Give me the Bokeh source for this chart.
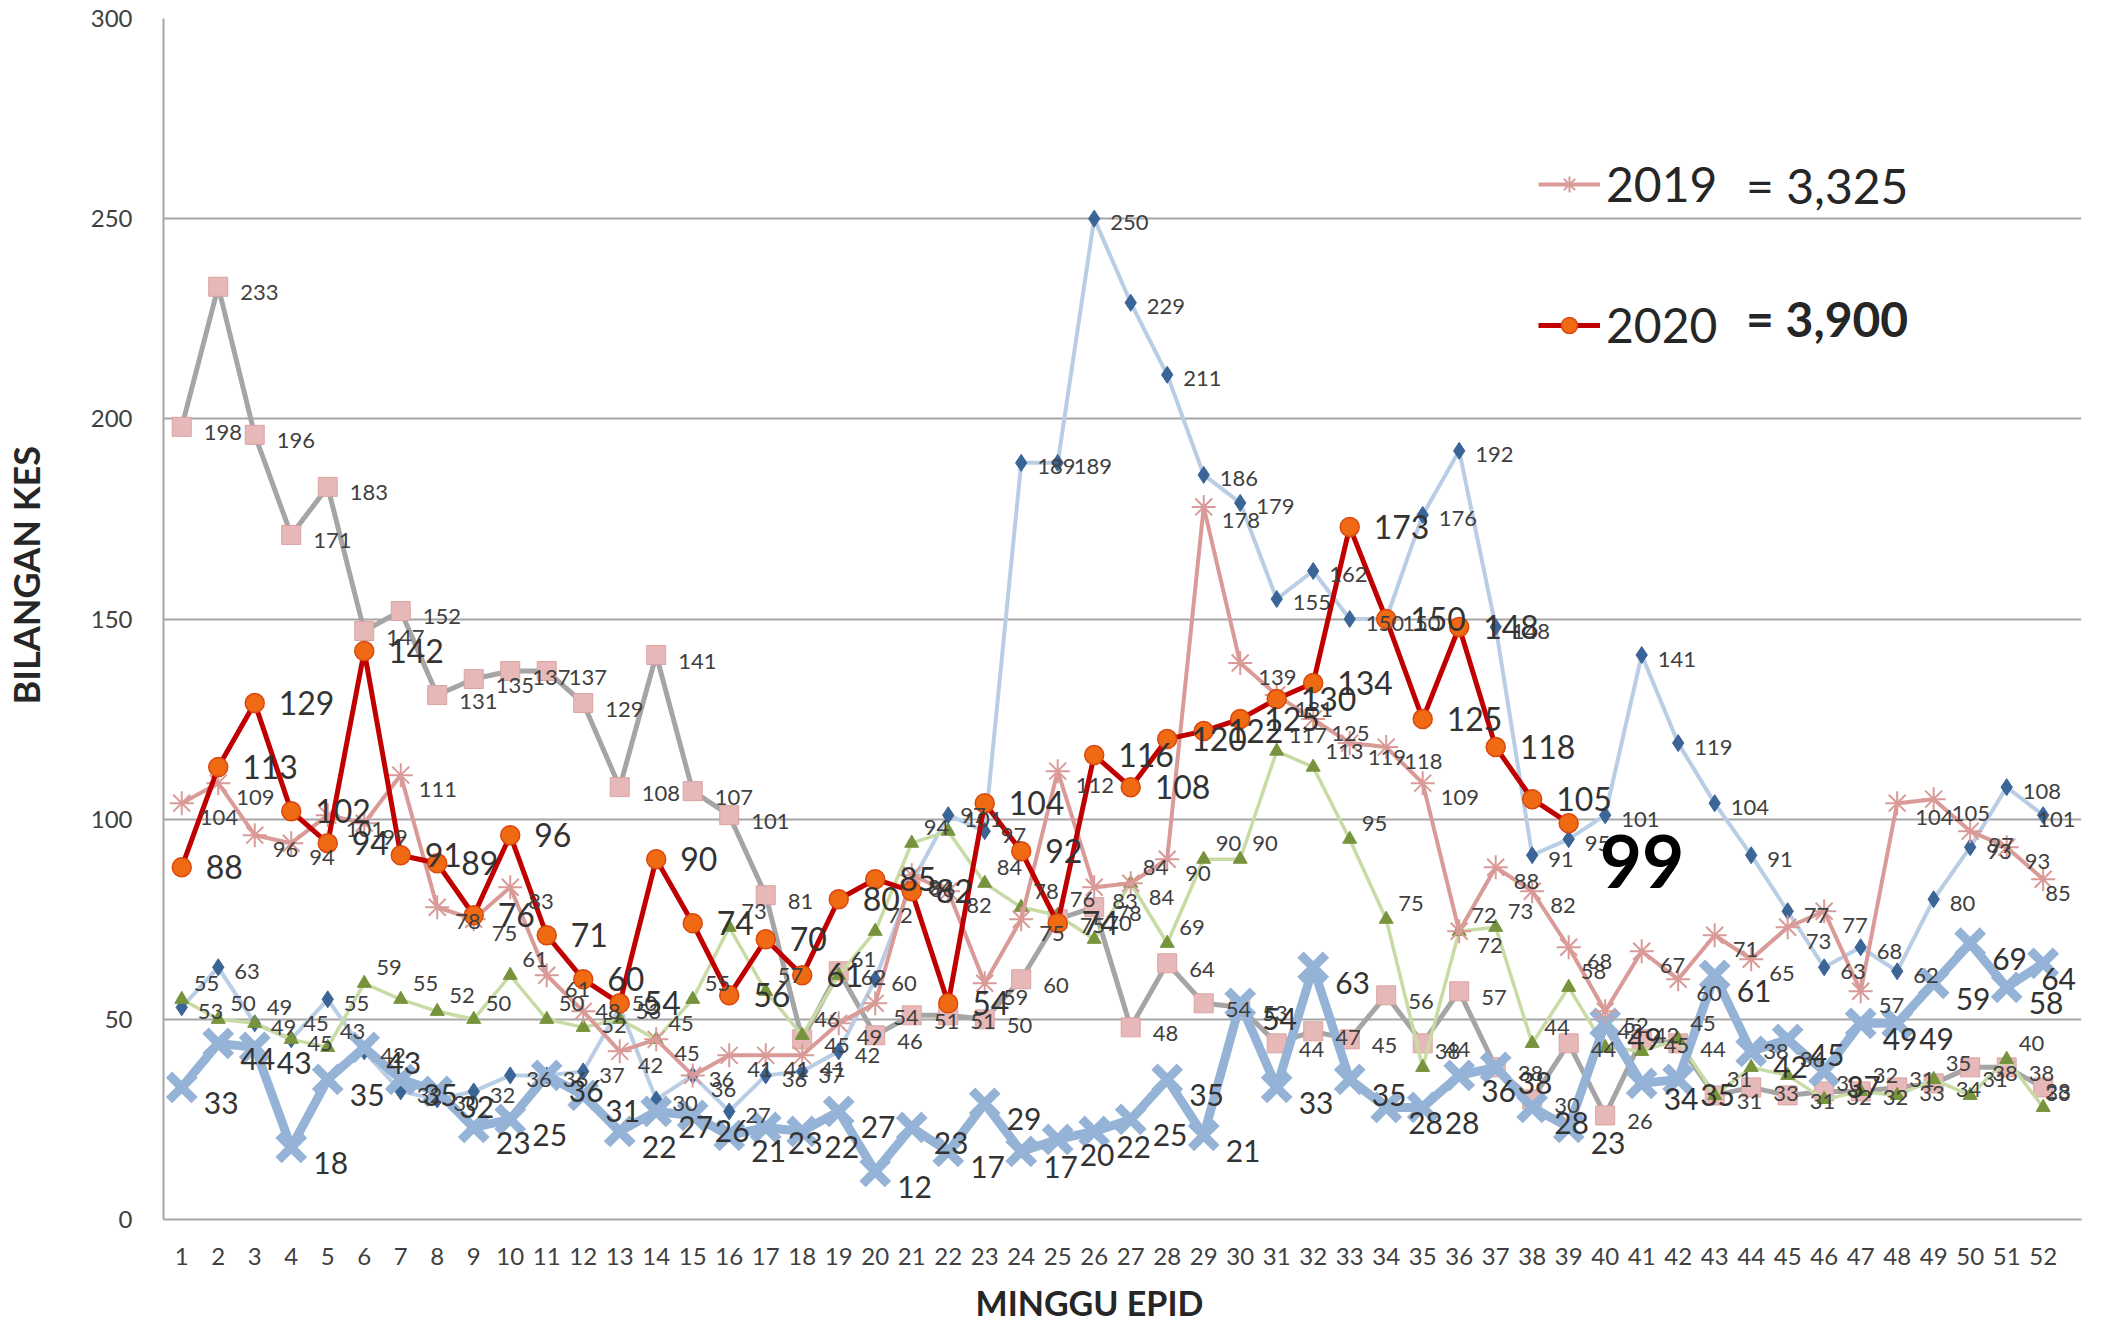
from bokeh.plotting import figure
from bokeh.models import ColumnDataSource, Range1d, FixedTicker, Legend, LegendItem, Label
from bokeh.core.properties import value
from bokeh.embed import file_html
from bokeh.resources import INLINE

# ---------------- data ----------------
weeks = list(range(1, 53))
weeks_2020 = weeks[:39]

grey_square = [198, 233, 196, 171, 183, 147, 152, 131, 135, 137, 137, 129, 108, 141, 107, 101, 81, 45,
               62, 46, 51, 51, 50, 60, 75, 78, 48, 64, 54, 53, 44, 47, 45, 56, 44, 57, 38, 30, 44, 26,
               45, 44, 31, 33, 31, 32, 32, 33, 34, 38, 38, 33]
blue_diamond = [53, 63, 49, 45, 55, 42, 32, 30, 32, 36, 36, 37, 53, 30, 36, 27, 36, 37, 42, 60,
                84, 101, 97, 189, 189, 250, 229, 211, 186, 179, 155, 162, 150, 150, 176, 192, 148, 91, 95, 101,
                141, 119, 104, 91, 77, 63, 68, 62, 80, 93, 108, 101]
green_triangle = [55, 50, 49, 45, 43, 59, 55, 52, 50, 61, 50, 48, 50, 45, 55, 73, 57, 46, 61, 72,
                  94, 97, 84, 78, 76, 70, 84, 69, 90, 90, 117, 113, 95, 75, 38, 72, 73, 44, 58, 43,
                  42, 45, 31, 38, 36, 30, 32, 31, 35, 31, 40, 28]
blue_cross = [33, 44, 43, 18, 35, 43, 35, 32, 23, 25, 36, 31, 22, 27, 26, 21, 23, 22, 27, 12,
              23, 17, 29, 17, 20, 22, 25, 35, 21, 54, 33, 63, 35, 28, 28, 36, 38, 28, 23, 49,
              34, 35, 61, 42, 45, 37, 49, 49, 59, 69, 58, 64]
cases_2019 = [104, 109, 96, 94, 101, 99, 111, 78, 75, 83, 61, 52, 42, 45, 36, 41, 41, 41, 49, 54,
              86, 82, 59, 75, 112, 83, 84, 90, 178, 139, 131, 125, 119, 118, 109, 72, 88, 82, 68, 52,
              67, 60, 71, 65, 73, 77, 57, 104, 105, 97, 93, 85]
cases_2020 = [88, 113, 129, 102, 94, 142, 91, 89, 76, 96, 71, 60, 54, 90, 74, 56, 70, 61, 80, 85,
              82, 54, 104, 92, 74, 116, 108, 120, 122, 125, 130, 134, 173, 150, 125, 148, 118, 105, 99]

legend_names = ["2019", "2020"]
legend_totals = ["= 3,325", "= 3,900"]
y_ticks = [0, 50, 100, 150, 200, 250, 300]
x_title = "MINGGU EPID"
y_title = "BILANGAN KES"

FONT = "Lato"
NB = "\u00a0"

def src(xs, ys, dx, last_dx):
    offs = [dx] * len(xs)
    if xs[-1] == weeks[-1]:
        offs[-1] = last_dx
    return ColumnDataSource(dict(x=xs, y=ys, t=[str(v) for v in ys], dx=offs))

s_grey = src(weeks, grey_square, 22, 2)
s_bd = src(weeks, blue_diamond, 16, -6)
s_gt = src(weeks, green_triangle, 12, 2)
s_bc = src(weeks, blue_cross, 22, -2)
s_19 = src(weeks, cases_2019, 18, 2)
s_20 = src(weeks_2020[:-1], cases_2020[:-1], 24, 24)
s_20_all = src(weeks_2020, cases_2020, 24, 24)
s_20_last = src(weeks_2020[-1:], cases_2020[-1:], 31, 31)

p = figure(width=2086, height=1328, output_backend="svg", toolbar_location=None,
           x_range=Range1d(0.5, 53.05), y_range=Range1d(0, 300),
           min_border_left=157, min_border_right=5, min_border_top=18, min_border_bottom=109)
p.outline_line_color = None
p.background_fill_color = "white"
p.border_fill_color = "white"

# axes
p.xgrid.grid_line_color = None
p.ygrid.grid_line_color = "#a6a6a6"
p.ygrid.grid_line_width = 2
p.yaxis.ticker = FixedTicker(ticks=y_ticks)
p.xaxis.ticker = FixedTicker(ticks=weeks)
for ax in (p.xaxis[0], p.yaxis[0]):
    ax.axis_line_color = "#a6a6a6"
    ax.axis_line_width = 2
    ax.major_tick_line_color = None
    ax.minor_tick_line_color = None
    ax.major_label_text_font = FONT
    ax.major_label_text_font_size = "24px"
    ax.major_label_text_color = "#404040"
    ax.axis_label_text_font = FONT
    ax.axis_label_text_font_style = "bold"
    ax.axis_label_text_color = "#262626"
p.yaxis.major_label_standoff = 25
p.xaxis.major_label_standoff = 22
p.yaxis.axis_label = NB * 10 + y_title
p.yaxis.axis_label_text_font_size = "36px"
p.yaxis.axis_label_standoff = 40
p.xaxis.axis_label = x_title + NB * 8
p.xaxis.axis_label_text_font_size = "34px"
p.xaxis.axis_label_standoff = 14

# series
p.line("x", "y", source=s_grey, line_color="#a5a5a5", line_width=5)
p.scatter("x", "y", source=s_grey, marker="square", size=19, fill_color="#e6b9b8", line_color="#d9a3a2")

p.line("x", "y", source=s_bd, line_color="#b9cde5", line_width=4)
p.scatter("x", "y", source=s_bd, marker="diamond", size=17, fill_color="#3a6596", line_color="#3a6596")

p.line("x", "y", source=s_gt, line_color="#c9dba5", line_width=3.5)
p.scatter("x", "y", source=s_gt, marker="triangle", size=14, fill_color="#77933c", line_color="#77933c")

p.line("x", "y", source=s_bc, line_color="#95b3d7", line_width=9)
p.scatter("x", "y", source=s_bc, marker="x", size=36, line_color="#95b3d7", line_width=9)

l19 = p.line("x", "y", source=s_19, line_color="#d99a98", line_width=4)
m19 = p.scatter("x", "y", source=s_19, marker="asterisk", size=24, line_color="#d99a98", line_width=2)

l20 = p.line("x", "y", source=s_20_all, line_color="#c00000", line_width=5)
m20 = p.scatter("x", "y", source=s_20_all, marker="circle", size=19, fill_color="#f06a14", line_color="#d9480f", line_width=1.5)

# data labels
def labels(source, size, color, dy, style="normal"):
    p.text("x", "y", text="t", source=source, x_offset="dx", y_offset=dy,
           text_font=value(FONT), text_font_size=size, text_color=color,
           text_align="left", text_baseline="middle", text_font_style=style)

labels(s_grey, "22px", "#404040", 6)
labels(s_bd, "22px", "#404040", 4)
labels(s_gt, "22px", "#404040", -16)
labels(s_19, "22px", "#404040", 14)
labels(s_bc, "30px", "#333333", 16)
labels(s_20, "32px", "#333333", 0)
labels(s_20_last, "73px", "#000000", 38, "bold")

# legend
legend = Legend(items=[LegendItem(label=legend_names[0], renderers=[l19, m19]),
                       LegendItem(label=legend_names[1], renderers=[l20, m20])],
                location=(1375, 866), orientation="vertical",
                label_text_font=FONT, label_text_font_size="48px", label_text_color="#262626",
                glyph_width=62, glyph_height=40, spacing=84, padding=0, margin=0,
                label_standoff=6, background_fill_alpha=0, border_line_color=None)
p.add_layout(legend, "center")

p.add_layout(Label(x=43.86, y=258.3, text=legend_totals[0], text_font=FONT, text_font_size="48px",
                   text_color="#262626", text_baseline="middle"))
p.add_layout(Label(x=43.86, y=225, text=legend_totals[1], text_font=FONT, text_font_size="48px",
                   text_color="#262626", text_baseline="middle", text_font_style="bold"))

open("out.html", "w").write(file_html(p, INLINE))
